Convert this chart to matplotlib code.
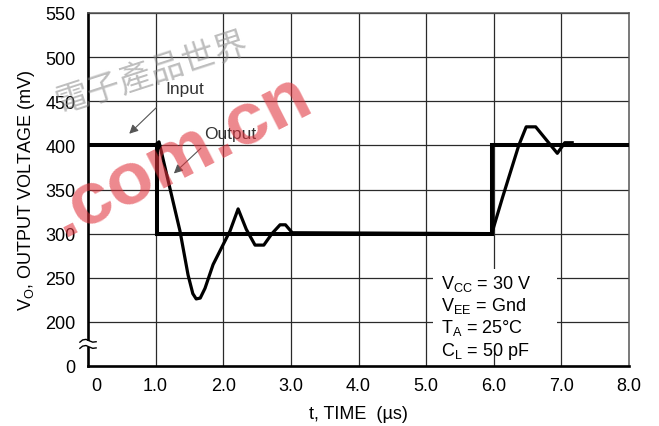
import matplotlib
matplotlib.use("Agg")
import matplotlib.pyplot as plt
import matplotlib.transforms as mtransforms
from matplotlib.patches import Rectangle

plt.rcParams['font.family'] = ['Liberation Sans', 'DejaVu Sans']
plt.rcParams['mathtext.fontset'] = 'custom'
plt.rcParams['mathtext.rm'] = 'Liberation Sans'
plt.rcParams['mathtext.it'] = 'Liberation Sans'

# Input step (mV vs us)
input_t = [0.0, 1.02, 1.02, 5.97, 5.97, 8.0]
input_v = [400, 400, 300, 300, 400, 400]

# Output response (mV vs us)
output_t = [1.02, 1.05, 1.36, 1.48, 1.55, 1.60, 1.66, 1.73, 1.85, 2.10, 2.22,
            2.34, 2.47, 2.60, 2.72, 2.84, 2.92, 3.02, 5.97, 6.13, 6.37, 6.48,
            6.62, 6.94, 7.05, 7.16]
output_v = [402, 404, 303, 253, 232, 226, 227, 238, 265, 303, 328,
            305, 287, 287, 300, 310, 310, 301, 300, 341, 400, 421,
            421, 391, 403, 403]

y_ticks = [150, 200, 250, 300, 350, 400, 450, 500, 550]   # 150 stands in for the broken "0"
y_labels = ['0', '200', '250', '300', '350', '400', '450', '500', '550']
x_ticks = [0, 1, 2, 3, 4, 5, 6, 7, 8]
x_labels = ['0', '1.0', '2.0', '3.0', '4.0', '5.0', '6.0', '7.0', '8.0']

conditions = [r'V$_{\mathrm{CC}}$ = 30 V', r'V$_{\mathrm{EE}}$ = Gnd',
              r'T$_{\mathrm{A}}$ = 25°C', r'C$_{\mathrm{L}}$ = 50 pF']

fig = plt.figure(figsize=(6.59, 4.27), dpi=100)
ax = fig.add_axes([88 / 659, 1 - 367 / 427, 541 / 659, 353 / 427])

ax.set_xlim(0, 8)
ax.set_ylim(150, 550)
ax.set_xticks(x_ticks)
ax.set_xticklabels(x_labels)
ax.set_yticks(y_ticks)
ax.set_yticklabels(y_labels)
ax.tick_params(length=0, labelsize=13)
ax.tick_params(axis='y', pad=9)
ax.tick_params(axis='x', pad=8)
# the "0" sits a bit right of the spine in the original
lbl0 = ax.get_xticklabels()[0]
lbl0.set_transform(lbl0.get_transform() + mtransforms.ScaledTranslation(0.08, 0, fig.dpi_scale_trans))

for y in y_ticks[1:]:
    ax.axhline(y, color='#2a2a2a', lw=0.9, zorder=1)
for x in x_ticks[1:-1]:
    ax.axvline(x, color='#2a2a2a', lw=0.9, zorder=1)

for side in ['top', 'right']:
    ax.spines[side].set_color('#555555')
    ax.spines[side].set_linewidth(1.1)
for side in ['left', 'bottom']:
    ax.spines[side].set_color('black')
    ax.spines[side].set_linewidth(1.9)

ax.plot(input_t, input_v, color='black', lw=2.9, solid_joinstyle='miter', zorder=4)
ax.plot(output_t, output_v, color='black', lw=2.3, zorder=5)

# conditions box
ax.add_patch(Rectangle((5.1, 165), 1.83, 95, facecolor='white', edgecolor='none', zorder=2))
for i, s in enumerate(conditions):
    ax.text(5.22, 255 - i * 25, s, fontsize=13, va='top', ha='left', zorder=3)

# labels with arrows
ax.text(1.15, 465, 'Input', fontsize=12.5, color='#333333', va='center', zorder=6)
ax.annotate('', xy=(0.58, 411), xytext=(1.04, 445),
            arrowprops=dict(arrowstyle='-|>', color='#555555', lw=0.8, mutation_scale=13), zorder=6)
ax.text(1.71, 414, 'Output', fontsize=12.5, color='#333333', va='center', zorder=6)
ax.annotate('', xy=(1.24, 366), xytext=(1.70, 399),
            arrowprops=dict(arrowstyle='-|>', color='#555555', lw=0.8, mutation_scale=13), zorder=6)

# axis break marks on the left spine
ax.add_patch(Rectangle((-0.1, 171), 0.2, 7, facecolor='white', edgecolor='none',
                       clip_on=False, zorder=7))
wx = [-0.12, -0.08, -0.03, 0.02, 0.07, 0.12]
for yb in [171, 178]:
    wy = [yb - 1, yb + 1.5, yb + 2.2, yb + 0.5, yb - 1, yb - 0.5]
    ax.plot(wx, wy, color='black', lw=1.0, clip_on=False, zorder=8)

ax.set_xlabel('t, TIME  (µs)', fontsize=13, labelpad=8)
ax.set_ylabel(r'V$_{\mathrm{O}}$, OUTPUT VOLTAGE (mV)', fontsize=13, labelpad=6)

# site watermark
fig.text(0.23, 0.83, '電子產品世界', fontsize=24, color='#888888', alpha=0.55,
         rotation=18, ha='center', va='center', family=['Noto Sans CJK SC', 'DejaVu Sans'])
fig.text(0.275, 0.635, '.com.cn', fontsize=54, fontweight='bold', color='#e0323c', alpha=0.58,
         rotation=27, ha='center', va='center')

fig.savefig('out.png', dpi=100)
